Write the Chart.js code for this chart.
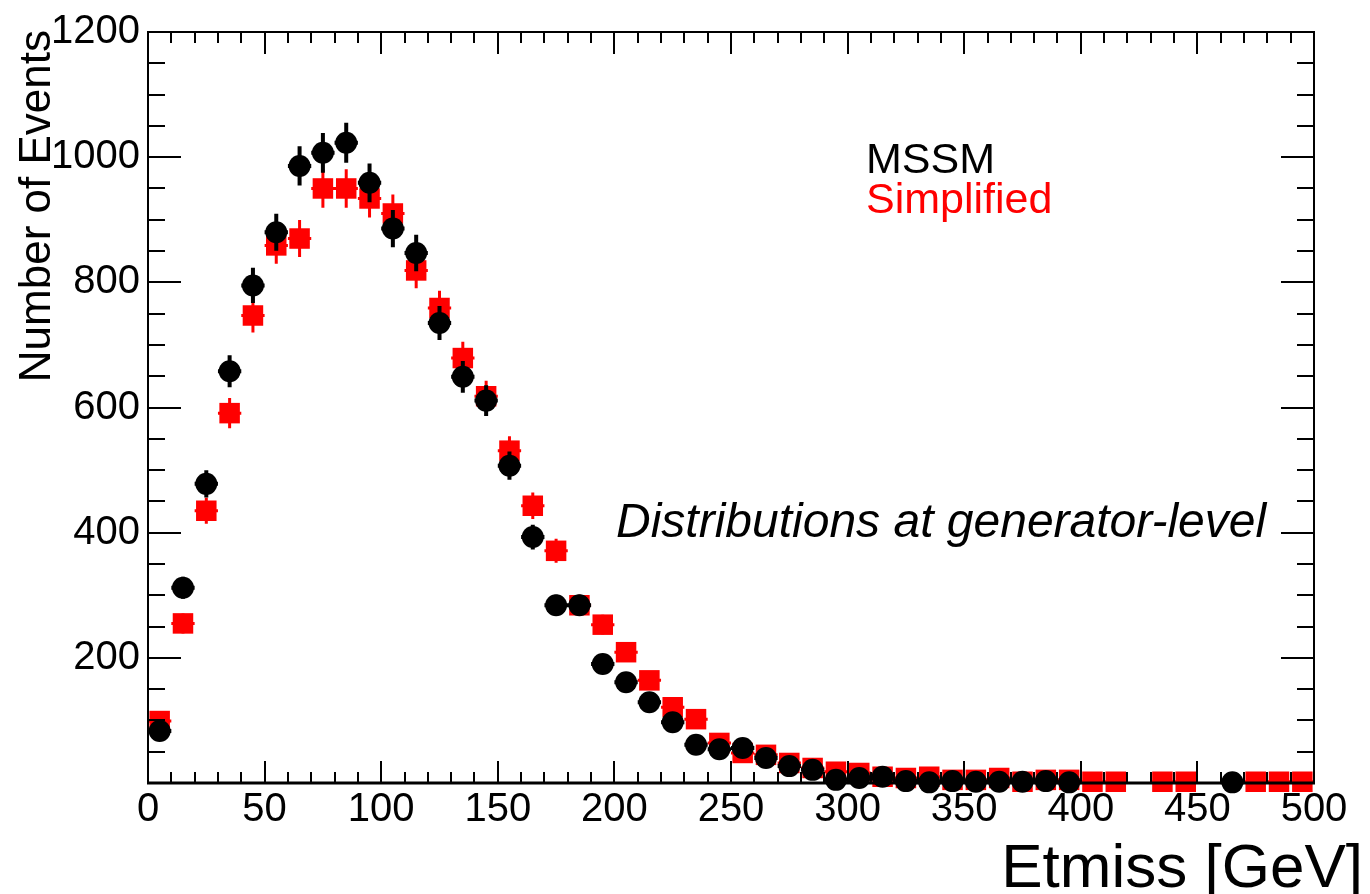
<!DOCTYPE html>
<html>
<head>
<meta charset="utf-8">
<title>Etmiss distributions</title>
<script src="https://cdn.jsdelivr.net/npm/chart.js@4/dist/chart.umd.min.js"></script>
<style>
  html, body { margin: 0; padding: 0; background: #fff; }
  #wrap { width: 1370px; height: 894px; }
</style>
</head>
<body>
<div id="wrap"><canvas id="c" width="1370" height="894"></canvas></div>
<script>
// Etmiss at generator level, MSSM vs simplified model, 10 GeV bins

const binCenters = [
  5, 15, 25, 35, 45, 55, 65, 75, 85, 95,
  105, 115, 125, 135, 145, 155, 165, 175, 185, 195,
  205, 215, 225, 235, 245, 255, 265, 275, 285, 295,
  305, 315, 325, 335, 345, 355, 365, 375, 385, 395,
  405, 415, 425, 435, 445, 455, 465, 475, 485, 495
];
const binHalfWidth = 5;

// (0 = empty bin, not drawn)
const mssmEvents = [
  83, 312, 478, 658, 795, 880, 986, 1007, 1023, 959,
  886, 847, 735, 649, 611, 507, 393, 284, 284, 190,
  161, 129, 97, 61, 54, 56, 40, 27, 21, 5,
  8, 10, 3, 1, 3, 2, 2, 2, 3, 1,
  0, 0, 0, 0, 0, 0, 1, 0, 0, 0
];
const simplifiedEvents = [
  99, 255, 435, 591, 747, 859, 870, 950, 950, 934,
  910, 819, 759, 679, 618, 531, 443, 371, 284, 253,
  209, 164, 121, 102, 64, 48, 45, 32, 24, 18,
  16, 10, 8, 10, 5, 5, 8, 2, 5, 5,
  2, 2, 0, 2, 2, 0, 0, 2, 2, 2
];

const xTicks = [0, 50, 100, 150, 200, 250, 300, 350, 400, 450, 500];
const yTicks = [0, 200, 400, 600, 800, 1000, 1200];
const xMinorStep = 10;
const yMinorStep = 50;

const FONT = '"Liberation Sans", Arial, Helvetica, sans-serif';

function toPoints(vals) {
  return binCenters.map((x, i) => ({ x: x, y: vals[i] })).filter(p => p.y > 0);
}

// vertical (sqrt N) and horizontal (bin width) error bars, drawn just before each dataset's markers
const errorBars = {
  id: 'errorBars',
  beforeDatasetDraw(chart, args) {
    const ds = chart.data.datasets[args.index];
    const xs = chart.scales.x, ys = chart.scales.y;
    const ctx = chart.ctx;
    ctx.save();
    ctx.strokeStyle = ds.backgroundColor;
    ctx.lineWidth = ds.errWidth;
    ctx.beginPath();
    ds.data.forEach(p => {
      const err = Math.sqrt(p.y);
      const px = xs.getPixelForValue(p.x);
      const py = ys.getPixelForValue(p.y);
      ctx.moveTo(px, ys.getPixelForValue(Math.max(0, p.y - err)));
      ctx.lineTo(px, ys.getPixelForValue(p.y + err));
      ctx.moveTo(xs.getPixelForValue(p.x - binHalfWidth), py);
      ctx.lineTo(xs.getPixelForValue(p.x + binHalfWidth), py);
    });
    ctx.stroke();
    ctx.restore();
  }
};

// ROOT-like frame with inward ticks on all four sides, then the texts
const rootFrame = {
  id: 'rootFrame',
  afterDatasetsDraw(chart) {
    const ctx = chart.ctx;
    const a = chart.chartArea;
    const xs = chart.scales.x, ys = chart.scales.y;
    ctx.save();
    ctx.strokeStyle = '#000';
    ctx.lineCap = 'butt';

    // ticks
    ctx.lineWidth = 2;
    ctx.beginPath();
    for (let v = xs.min; v <= xs.max + 0.001; v += xMinorStep) {
      const px = Math.round(xs.getPixelForValue(v));
      const len = xTicks.includes(v) ? 22 : 11;
      ctx.moveTo(px, a.bottom); ctx.lineTo(px, a.bottom - len);
      ctx.moveTo(px, a.top); ctx.lineTo(px, a.top + len);
    }
    for (let v = ys.min; v <= ys.max + 0.001; v += yMinorStep) {
      const py = Math.round(ys.getPixelForValue(v));
      const len = yTicks.includes(v) ? 33 : 17;
      ctx.moveTo(a.left, py); ctx.lineTo(a.left + len, py);
      ctx.moveTo(a.right, py); ctx.lineTo(a.right - len, py);
    }
    ctx.stroke();

    // frame
    ctx.lineWidth = 2;
    ctx.strokeRect(a.left, a.top, a.right - a.left, a.bottom - a.top);
    ctx.lineWidth = 3;
    ctx.beginPath();
    ctx.moveTo(a.left - 1, a.bottom); ctx.lineTo(a.right + 1, a.bottom);
    ctx.stroke();
    ctx.restore();
  },
  afterDraw(chart) {
    const ctx = chart.ctx;
    ctx.save();
    ctx.textBaseline = 'alphabetic';

    // legend-ish labels
    ctx.textAlign = 'left';
    ctx.font = '43px ' + FONT;
    ctx.fillStyle = '#000';
    ctx.fillText('MSSM', 866, 173);
    ctx.fillStyle = '#ff0000';
    ctx.fillText('Simplified', 866, 213);

    ctx.fillStyle = '#000';
    ctx.font = 'italic 48px ' + FONT;
    ctx.fillText('Distributions at generator-level', 616, 537);

    // x title
    ctx.font = '62px ' + FONT;
    ctx.textAlign = 'right';
    ctx.fillText('Etmiss [GeV]', 1363, 887);

    // y title
    ctx.translate(50, 30);
    ctx.rotate(-Math.PI / 2);
    ctx.font = '44px ' + FONT;
    ctx.textAlign = 'right';
    ctx.fillText('Number of Events', 0, 0);
    ctx.restore();
  }
};

new Chart(document.getElementById('c'), {
  type: 'scatter',
  data: {
    datasets: [
      {
        label: 'MSSM',
        data: toPoints(mssmEvents),
        backgroundColor: '#000000',
        borderWidth: 0,
        pointStyle: 'circle',
        pointRadius: 11,
        pointHoverRadius: 11,
        errWidth: 4,
        clip: false
      },
      {
        label: 'Simplified',
        data: toPoints(simplifiedEvents),
        backgroundColor: '#ff0000',
        borderWidth: 0,
        pointStyle: 'rect',
        pointRadius: 14.5,
        pointHoverRadius: 14.5,
        errWidth: 3,
        clip: false
      }
    ]
  },
  options: {
    responsive: false,
    animation: false,
    events: [],
    layout: { padding: { top: 30, right: 56, left: 0, bottom: 0 } },
    plugins: {
      legend: { display: false },
      tooltip: { enabled: false }
    },
    scales: {
      x: {
        type: 'linear',
        min: 0,
        max: 500,
        afterBuildTicks: s => { s.ticks = xTicks.map(v => ({ value: v })); },
        afterFit: s => { s.height = 111; },
        grid: { display: false, drawTicks: false },
        border: { display: false },
        ticks: {
          autoSkip: false,
          maxRotation: 0,
          padding: 3,
          color: '#000',
          font: { family: FONT, size: 40 },
          callback: v => String(v)
        }
      },
      y: {
        type: 'linear',
        min: 0,
        max: 1200,
        afterBuildTicks: s => { s.ticks = yTicks.map(v => ({ value: v })); },
        afterFit: s => { s.width = 148; },
        grid: { display: false, drawTicks: false },
        border: { display: false },
        ticks: {
          autoSkip: false,
          padding: 8,
          color: '#000',
          font: { family: FONT, size: 40 },
          callback: v => (v === 0 ? '' : String(v))
        }
      }
    }
  },
  plugins: [errorBars, rootFrame]
});
</script>
</body>
</html>
